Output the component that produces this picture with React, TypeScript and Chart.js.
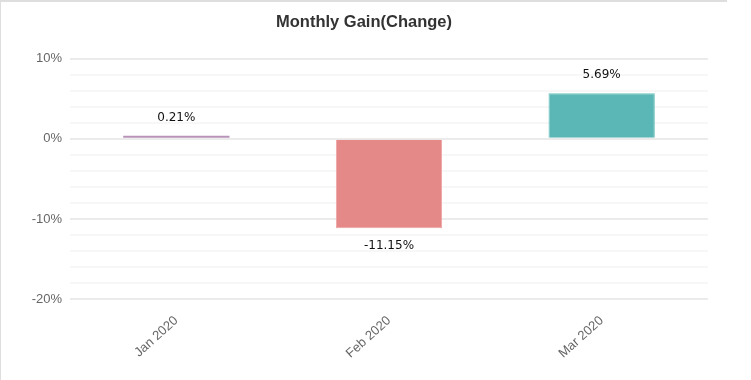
import React, { useEffect, useRef } from "react";
import { Chart, registerables } from "chart.js";

Chart.register(...registerables);

const categories = ["Jan 2020", "Feb 2020", "Mar 2020"];
const gains = [0.21, -11.15, 5.69];
const barColors = ["#b893b9", "#e48888", "#5bb7b5"];
const barBorders = ["#b893b9", "#f0a2a2", "#6fc3c0"];
const yMin = -20;
const yMax = 10;
const yStep = 2;

const valueLabels = {
  id: "valueLabels",
  afterDatasetsDraw(chart: any) {
    const ctx = chart.ctx;
    const meta = chart.getDatasetMeta(0);
    ctx.save();
    ctx.font = "12px 'DejaVu Sans'";
    ctx.fillStyle = "#111";
    ctx.textAlign = "center";
    ctx.textBaseline = "middle";
    meta.data.forEach((el: any, i: number) => {
      const v = gains[i];
      const top = Math.min(el.y, el.base);
      const bottom = Math.max(el.y, el.base);
      const y = v >= 0 ? top - 18 : bottom + 18;
      ctx.fillText(v.toFixed(2) + "%", el.x, y);
    });
    ctx.restore();
  },
};

export default function App() {
  const ref = useRef<HTMLCanvasElement>(null);
  useEffect(() => {
    if (!ref.current) return;
    const chart = new Chart(ref.current, {
      type: "bar",
      data: {
        labels: categories,
        datasets: [
          {
            data: gains,
            backgroundColor: barColors,
            borderColor: barBorders,
            borderWidth: [0, 1, 1],
            barPercentage: 0.5,
            categoryPercentage: 1,
            minBarLength: 3,
          },
        ],
      },
      options: {
        animation: false,
        responsive: false,
        layout: { padding: 0 },
        plugins: {
          legend: { display: false },
          tooltip: { enabled: false },
          title: {
            display: true,
            text: "Monthly Gain(Change)",
            color: "#333",
            font: { family: "'Liberation Sans', Arial", size: 16.5, weight: "bold" },
            padding: { top: 11, bottom: 26 },
          },
        },
        scales: {
          x: {
            grid: { display: false, drawTicks: false },
            border: { display: false },
            ticks: {
              color: "#666",
              font: { family: "'Liberation Sans', Arial", size: 13 },
              minRotation: 42,
              maxRotation: 42,
              padding: 14,
            },
            afterFit(scale: any) {
              scale.height = 81;
            },
          },
          y: {
            min: yMin,
            max: yMax,
            border: { display: false },
            grid: {
              drawTicks: false,
              color: (c: any) => (c.tick && c.tick.value % 10 === 0 ? "#ebebeb" : "#f7f7f7"),
              lineWidth: 2,
            },
            ticks: {
              stepSize: yStep,
              autoSkip: false,
              color: "#666",
              padding: 8,
              font: { family: "'Liberation Sans', Arial", size: 13 },
              callback: (v: any) => (Number(v) % 10 === 0 ? v + "%" : ""),
            },
            afterFit(scale: any) {
              scale.width = 69;
            },
          },
          yRight: {
            type: "linear",
            position: "right",
            display: true,
            grid: { display: false, drawTicks: false },
            border: { display: false },
            ticks: { display: false },
            afterFit(scale: any) {
              scale.width = 19;
            },
          },
        },
      },
      plugins: [valueLabels],
    });
    return () => chart.destroy();
  }, []);
  return (
    <div
      style={{
        position: "absolute",
        left: 0,
        top: 0,
        width: 726,
        height: 378,
        borderTop: "2px solid #dedede",
        borderLeft: "1px solid #dedede",
        background: "#fff",
      }}
    >
      <canvas ref={ref} width={726} height={378} />
    </div>
  );
}
